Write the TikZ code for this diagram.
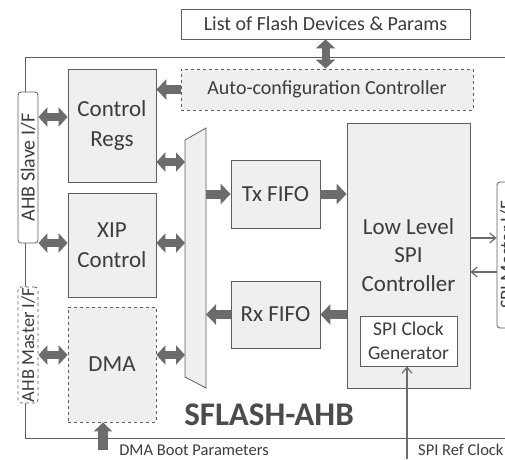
\documentclass[tikz,border=0pt]{standalone}
\usepackage{fontspec}
\setmainfont{Carlito}
\usetikzlibrary{arrows.meta,calc}
\definecolor{bx}{HTML}{EFEFEF}
\definecolor{ln}{HTML}{5E5E5E}
\definecolor{ar}{HTML}{6C6C6C}
\definecolor{tx}{HTML}{3C3C3C}
\begin{document}
\begin{tikzpicture}[x=1pt,y=-1pt,
  box/.style={draw=ln,fill=bx,line width=0.8pt,inner sep=0pt,align=center,text=tx},
  dbox/.style={box,dashed},
  ifc/.style={draw=ln,fill=white,rounded corners=3pt,line width=0.8pt,inner sep=0pt,text=tx},
  big/.style={font=\fontsize{23}{30}\selectfont},
  mid/.style={font=\fontsize{20}{24}\selectfont},
  dbl/.style={draw=ar,line width=8pt,{Triangle[length=9pt,width=19pt]}-{Triangle[length=9pt,width=19pt]}},
  sgl/.style={draw=ar,line width=9pt,-{Triangle[length=10pt,width=20pt]}},
  thin/.style={draw=ar,line width=1.2pt,-{Straight Barb[length=6pt,width=10pt]}},
  lbl/.style={text=tx,font=\fontsize{16.5}{18}\selectfont,inner sep=0pt}]
\useasboundingbox (0,0) rectangle (505,459);
\clip (0,0) rectangle (505,459);
% outer frame
\draw[ln,line width=0.8pt] (25,57) rectangle (540,438);
% nodes
\node[box,fill=white,minimum width=289pt,minimum height=30pt,mid] (list) at (325.5,24) {List of Flash Devices \& Params};
\node[dbox,minimum width=292pt,minimum height=41pt,mid] (auto) at (327,89.5) {Auto-configuration Controller};
\node[box,minimum width=88pt,minimum height=113pt,big] (ctrl) at (112,125.5) {Control\\Regs};
\node[box,minimum width=88pt,minimum height=104pt,big] (xip) at (112,245) {XIP\\Control};
\node[dbox,minimum width=88pt,minimum height=115pt,big] (dma) at (112,364.5) {DMA};
\node[ifc,minimum width=20pt,minimum height=151pt] (slave) at (28,167.5) {};
\node[rotate=90,text=tx,font=\fontsize{20}{22}\selectfont] (slavet) at (slave.center) {AHB Slave I/F};
\node[ifc,dashed,minimum width=20pt,minimum height=116pt] (master) at (28,345) {};
\node[rotate=90,text=tx,font=\fontsize{18.5}{20}\selectfont] (mastert) at (master.center) {AHB Master I/F};
\node[box,minimum width=89pt,minimum height=68pt,big] (txf) at (275.5,194) {Tx FIFO};
\node[box,minimum width=89pt,minimum height=67pt,big] (rxf) at (275.5,314.5) {Rx FIFO};
\node[box,minimum width=123pt,minimum height=265pt] (ll) at (408.5,255.5) {};
\node[text=tx,align=center,font=\fontsize{23}{28.5}\selectfont] (llt) at (408.5,255) {Low Level\\SPI\\Controller};
\node[box,fill=white,minimum width=97pt,minimum height=50pt,font=\fontsize{19.5}{24}\selectfont] (clk) at (408.5,341) {SPI Clock\\Generator};
\node[ifc,minimum width=20pt,minimum height=146pt] (spim) at (507,255) {};
\node[rotate=90,text=tx,font=\fontsize{19}{20}\selectfont] (spimt) at (spim.center) {SPI Master I/F};
% mux
\coordinate (muxL) at (185,140);
\coordinate (muxR) at (206,128);
\draw[ln,fill=bx,line width=0.8pt] (muxL) -- (muxR) -- (206,388) -- (185,377) -- cycle;
% title
\node[text=ar!70!black,font=\fontsize{33}{36}\bfseries\selectfont] (title) at (269,415) {SFLASH-AHB};
% connectors
\draw[dbl] (list.south) -- (list.south |- auto.north);
\draw[sgl] (auto.west) -- (auto.west -| ctrl.east);
\draw[dbl] ([yshift=8.5pt]ctrl.west -| slave.east) -- ([yshift=8.5pt]ctrl.west);
\draw[dbl] ([yshift=2pt]xip.west -| slave.east) -- ([yshift=2pt]xip.west);
\draw[dbl] ([yshift=9.5pt]dma.west -| master.east) -- ([yshift=9.5pt]dma.west);
\draw[dbl] ([yshift=-36.5pt]ctrl.east) -- ([yshift=-36.5pt]ctrl.east -| muxL);
\draw[dbl] ([yshift=2pt]xip.east) -- ([yshift=2pt]xip.east -| muxL);
\draw[dbl] ([yshift=9.5pt]dma.east) -- ([yshift=9.5pt]dma.east -| muxL);
\draw[sgl] (txf.west -| muxR) -- (txf.west);
\draw[sgl] (txf.east) -- (txf.east -| ll.west);
\draw[sgl] (rxf.east -| ll.west) -- (rxf.east);
\draw[sgl] (rxf.west) -- (rxf.west -| muxR);
\draw[thin] ([yshift=17.5pt]ll.east) -- ([yshift=17.5pt]ll.east -| spim.west);
\draw[thin] ([yshift=-16.5pt]ll.east -| spim.west) -- ([yshift=-16.5pt]ll.east);
\coordinate (refc) at (407,459);
\draw[thin] (refc) -- (refc |- clk.south);
\coordinate (dmab) at (103,450);
\draw[draw=ar,line width=10pt,-{Triangle[length=9pt,width=18pt]}] (dmab) -- (dmab |- dma.south);
\node[lbl] (dmal) at (194,450) {DMA Boot Parameters};
\node[lbl,anchor=west] (refl) at (418,450) {SPI Ref Clock};
\end{tikzpicture}
\end{document}
